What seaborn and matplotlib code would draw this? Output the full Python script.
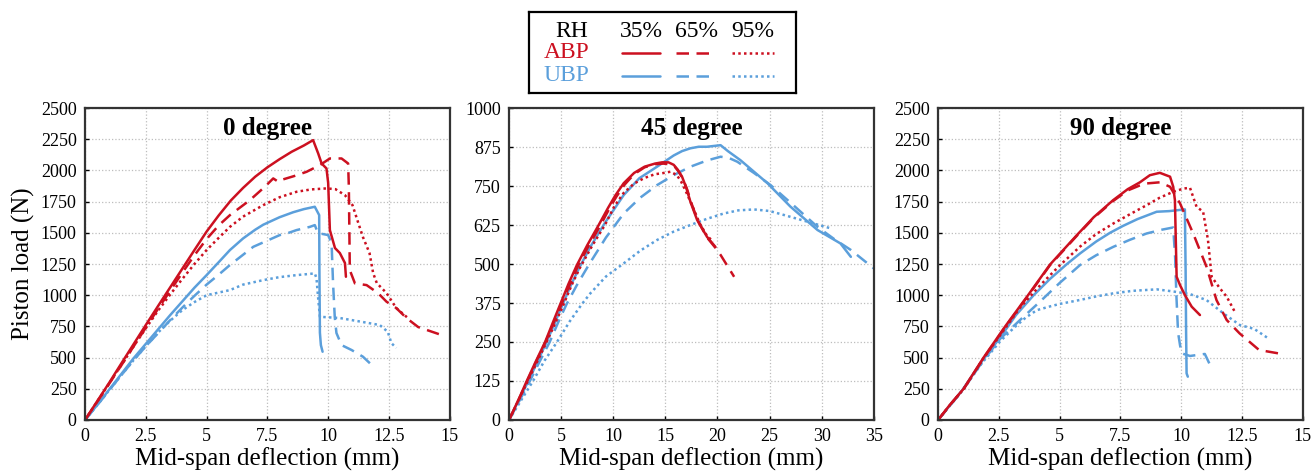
import pandas as pd
import matplotlib
matplotlib.use("Agg")
import matplotlib.pyplot as plt
import seaborn as sns

# ---- 0 degree ----
abp35_0_x = [0, 0.5, 1, 1.5, 2, 2.5, 3, 3.5, 4, 4.5, 5, 5.5, 6, 6.5, 7, 7.5, 8, 8.5, 9, 9.38, 9.59, 9.73, 9.93, 10.0, 10.07, 10.28, 10.48, 10.69, 10.73]
abp35_0_y = [0, 150, 300, 455, 608, 761, 912, 1062, 1212, 1362, 1510, 1640, 1760, 1860, 1950, 2025, 2090, 2150, 2200, 2243, 2136, 2056, 2016, 1900, 1522, 1378, 1338, 1258, 1148]
abp65_0_x = [0, 0.5, 1, 1.5, 2, 2.5, 3, 3.5, 4, 4.5, 5, 5.5, 5.96, 6.78, 7.4, 7.74, 7.95, 8.14, 8.6, 9.11, 9.66, 10.07, 10.55, 10.82, 10.85, 10.89, 11.1, 11.58, 12.05, 12.4, 12.8, 13.22, 13.7, 14.3, 14.66]
abp65_0_y = [0, 145, 292, 440, 590, 740, 890, 1035, 1180, 1320, 1450, 1560, 1642, 1762, 1870, 1936, 1909, 1928, 1955, 1989, 2043, 2096, 2096, 2056, 1869, 1201, 1095, 1081, 1017, 948, 897, 817, 745, 705, 681]
abp95_0_x = [0, 0.5, 1, 1.5, 2, 2.5, 3, 3.5, 4, 4.5, 5, 5.5, 5.96, 6.5, 7.33, 8.0, 8.7, 9.3, 9.93, 10.3, 10.69, 11.0, 11.2, 11.43, 11.7, 11.85, 12.0, 12.4, 12.8, 13.28]
abp95_0_y = [0, 148, 295, 442, 590, 735, 875, 1005, 1130, 1250, 1362, 1460, 1548, 1630, 1722, 1785, 1829, 1848, 1856, 1850, 1802, 1722, 1602, 1466, 1338, 1177, 1097, 1017, 897, 817]
ubp35_0_x = [0, 0.5, 1, 1.5, 2, 2.5, 3, 3.5, 4, 4.5, 5, 5.5, 5.96, 6.5, 7.0, 7.33, 8, 8.56, 9, 9.45, 9.63, 9.64, 9.66, 9.7, 9.77]
ubp35_0_y = [0, 120, 245, 370, 495, 610, 725, 840, 950, 1060, 1161, 1265, 1362, 1455, 1525, 1565, 1625, 1665, 1690, 1709, 1642, 1200, 700, 600, 547]
ubp65_0_x = [0, 0.5, 1, 1.5, 2, 2.5, 3, 3.5, 4, 4.5, 5, 5.5, 5.96, 6.92, 8.01, 8.3, 8.7, 9.25, 9.45, 9.58, 10.0, 10.14, 10.2, 10.27, 10.34, 10.55, 10.96, 11.43, 11.92]
ubp65_0_y = [0, 118, 240, 360, 480, 590, 695, 800, 900, 995, 1085, 1165, 1242, 1388, 1482, 1495, 1522, 1548, 1562, 1498, 1482, 1418, 1100, 827, 697, 600, 561, 507, 417]
ubp95_0_x = [0, 0.5, 1, 1.5, 2, 2.5, 3, 3.5, 4, 4.5, 5, 5.96, 6.5, 7.33, 8, 8.7, 9.2, 9.45, 9.52, 9.6, 9.66, 10.48, 11.37, 12.12, 12.45, 12.6, 12.8]
ubp95_0_y = [0, 118, 240, 360, 480, 590, 700, 795, 880, 945, 1000, 1041, 1085, 1121, 1145, 1161, 1170, 1175, 1135, 950, 827, 817, 787, 761, 707, 616, 577]

# ---- 45 degree ----
abp35_45_x = [0, 1, 1.7, 2.5, 3.46, 4.2, 4.9, 5.7, 6.5, 7.5, 8.6, 9.5, 10.2, 11.0, 12, 13, 14, 14.68, 15.3, 15.8, 16.2, 16.6, 17.0, 17.4, 18.05, 19.0, 19.8]
abp35_45_y = [0, 72, 125, 183, 250, 312, 370, 436, 496, 560, 625, 680, 720, 759, 792, 812, 822, 826, 826, 818, 802, 780, 745, 700, 641, 587, 555]
abp65_45_x = [0, 1, 1.7, 2.5, 3.5, 4.3, 5, 5.8, 6.6, 7.6, 8.7, 9.6, 10.3, 11.1, 12, 13, 14, 14.8, 15.4, 15.9, 16.3, 16.7, 17.1, 17.5, 18.1, 19.0, 19.8, 20.3, 21.6]
abp65_45_y = [0, 70, 122, 180, 250, 313, 368, 432, 493, 556, 620, 676, 716, 755, 788, 810, 820, 822, 820, 812, 795, 772, 738, 695, 640, 585, 552, 529, 459]
abp95_45_x = [0, 1, 1.8, 2.6, 3.6, 4.4, 5.1, 6.0, 6.8, 8.0, 9.2, 10.1, 11.0, 12, 13, 14, 14.68, 15.5, 16.1, 16.5, 16.9, 17.6, 18.3, 19.0, 19.6]
abp95_45_y = [0, 70, 125, 180, 250, 308, 360, 432, 488, 560, 625, 685, 728, 758, 776, 788, 791, 796, 785, 765, 738, 685, 630, 590, 572]
ubp35_45_x = [0, 1, 1.86, 2.7, 3.6, 4.4, 5.2, 6.0, 6.8, 7.8, 9.2, 11.0, 12.5, 14.2, 15.8, 16.6, 17.4, 18.2, 19.0, 20.3, 21.0, 22.2, 24.8, 27.0, 29.6, 31.8, 32.8]
ubp35_45_y = [0, 68, 125, 185, 250, 312, 375, 437, 492, 555, 632, 721, 775, 812, 848, 862, 871, 876, 876, 881, 862, 833, 759, 684, 609, 566, 523]
ubp65_45_x = [0, 1, 2, 2.9, 3.9, 4.7, 5.5, 6.5, 7.7, 9.3, 11.0, 12.6, 14.2, 15.8, 17.4, 19.0, 20.3, 21.1, 21.9, 23.5, 25.1, 27.3, 29.6, 31.2, 32.8, 35.0]
ubp65_45_y = [0, 62, 125, 185, 250, 312, 370, 432, 500, 585, 662, 713, 753, 785, 812, 832, 844, 840, 828, 792, 753, 688, 619, 580, 545, 486]
ubp95_45_x = [0, 1.1, 2.3, 3.4, 4.6, 5.8, 7.0, 7.8, 9.3, 11.0, 12.6, 14.2, 15.8, 17.4, 19.0, 20.6, 22.0, 23.5, 25.0, 26.4, 28.6, 30.9]
ubp95_45_y = [0, 60, 125, 190, 250, 315, 372, 406, 460, 502, 543, 577, 604, 625, 645, 662, 672, 675, 670, 657, 636, 614]

# ---- 90 degree ----
abp35_90_x = [0, 0.5, 1.05, 1.87, 2.76, 3.7, 4.6, 5.7, 6.4, 7.2, 7.8, 8.3, 8.71, 9.12, 9.54, 9.67, 9.74, 9.81, 9.95, 10.15, 10.43, 10.77]
abp35_90_y = [0, 125, 250, 500, 750, 1000, 1245, 1480, 1625, 1762, 1850, 1905, 1962, 1981, 1950, 1870, 1762, 1148, 1081, 1001, 908, 841]
abp65_90_x = [0, 0.5, 1.05, 1.87, 2.76, 3.7, 4.6, 5.7, 6.4, 7.2, 7.8, 8.3, 8.58, 9.12, 9.54, 9.95, 10.49, 11.04, 11.45, 11.87, 12.4, 13.2, 13.99]
abp65_90_y = [0, 122, 248, 495, 745, 995, 1240, 1475, 1620, 1755, 1840, 1880, 1896, 1905, 1869, 1736, 1495, 1228, 961, 801, 694, 561, 534]
abp95_90_x = [0, 0.5, 1.05, 1.87, 2.76, 3.37, 4.2, 5.01, 5.84, 6.5, 7.21, 7.9, 8.58, 9.1, 9.67, 10.1, 10.36, 10.63, 10.9, 11.1, 11.25, 11.59, 11.87, 12.2]
abp95_90_y = [0, 122, 248, 495, 735, 900, 1080, 1240, 1390, 1490, 1575, 1650, 1722, 1780, 1829, 1855, 1861, 1709, 1669, 1442, 1148, 1055, 988, 868]
ubp35_90_x = [0, 0.5, 1.0, 1.8, 2.55, 3.2, 3.93, 4.6, 5.3, 5.84, 6.5, 7.07, 7.6, 8.2, 8.99, 9.5, 10.15, 10.18, 10.2, 10.22, 10.27]
ubp35_90_y = [0, 120, 240, 470, 660, 840, 1000, 1130, 1250, 1335, 1430, 1500, 1555, 1610, 1669, 1674, 1688, 1200, 700, 374, 347]
ubp65_90_x = [0, 0.5, 1.0, 1.8, 2.55, 3.37, 4.2, 5.01, 5.84, 6.5, 7.21, 7.9, 8.58, 9.2, 9.67, 9.75, 9.8, 9.87, 9.95, 10.02, 10.36, 10.97, 11.25]
ubp65_90_y = [0, 118, 235, 460, 650, 801, 950, 1100, 1242, 1320, 1388, 1445, 1495, 1525, 1543, 1300, 1000, 700, 600, 534, 513, 529, 414]
ubp95_90_x = [0, 0.5, 1.0, 1.8, 2.55, 3.1, 3.6, 4.06, 4.6, 5.0, 5.84, 6.5, 7.21, 8.0, 8.99, 9.67, 10.36, 11.04, 11.73, 12.41, 13.0, 13.58]
ubp95_90_y = [0, 118, 235, 455, 630, 735, 820, 880, 910, 930, 962, 990, 1015, 1035, 1047, 1030, 1009, 961, 855, 761, 730, 654]

panel_titles = ["0 degree", "45 degree", "90 degree"]
x_ticks = [[0, 2.5, 5, 7.5, 10, 12.5, 15], list(range(0, 40, 5)), [0, 2.5, 5, 7.5, 10, 12.5, 15]]
y_ticks = [list(range(0, 2750, 250)), list(range(0, 1125, 125)), list(range(0, 2750, 250))]
rh_levels = ["35%", "65%", "95%"]
bp_levels = ["ABP", "UBP"]

series = {
    0: [("ABP", "35%", abp35_0_x, abp35_0_y), ("ABP", "65%", abp65_0_x, abp65_0_y), ("ABP", "95%", abp95_0_x, abp95_0_y),
        ("UBP", "35%", ubp35_0_x, ubp35_0_y), ("UBP", "65%", ubp65_0_x, ubp65_0_y), ("UBP", "95%", ubp95_0_x, ubp95_0_y)],
    1: [("ABP", "35%", abp35_45_x, abp35_45_y), ("ABP", "65%", abp65_45_x, abp65_45_y), ("ABP", "95%", abp95_45_x, abp95_45_y),
        ("UBP", "35%", ubp35_45_x, ubp35_45_y), ("UBP", "65%", ubp65_45_x, ubp65_45_y), ("UBP", "95%", ubp95_45_x, ubp95_45_y)],
    2: [("ABP", "35%", abp35_90_x, abp35_90_y), ("ABP", "65%", abp65_90_x, abp65_90_y), ("ABP", "95%", abp95_90_x, abp95_90_y),
        ("UBP", "35%", ubp35_90_x, ubp35_90_y), ("UBP", "65%", ubp65_90_x, ubp65_90_y), ("UBP", "95%", ubp95_90_x, ubp95_90_y)],
}

red = "#cc1020"
blue = "#5b9fdb"
palette = {"ABP": red, "UBP": blue}
dashes = {"35%": "", "65%": (5, 3), "95%": (1, 1.3)}

sns.set_style("ticks")
plt.rcParams["font.family"] = ["Liberation Serif", "DejaVu Serif"]
plt.rcParams["text.color"] = "black"
plt.rcParams["axes.labelcolor"] = "black"
plt.rcParams["xtick.color"] = "black"
plt.rcParams["ytick.color"] = "black"

fig = plt.figure(figsize=(13.12, 4.74), dpi=100)
lefts = [0.0648, 0.388, 0.715]

for i in range(3):
    ax = fig.add_axes([lefts[i], 0.114, 0.278, 0.658])
    rows = []
    for bp, rh, xs, ys in series[i]:
        for n, (xv, yv) in enumerate(zip(xs, ys)):
            rows.append({"x": xv, "load": yv, "bp": bp, "rh": rh, "n": n})
    df = pd.DataFrame(rows)
    sns.lineplot(data=df, x="x", y="load", hue="bp", style="rh",
                 hue_order=["UBP", "ABP"], style_order=rh_levels,
                 palette=palette, dashes=dashes, estimator=None, sort=False,
                 linewidth=1.8, legend=False, ax=ax)
    ax.set_xlim(x_ticks[i][0], x_ticks[i][-1])
    ax.set_ylim(y_ticks[i][0], y_ticks[i][-1])
    ax.set_xticks(x_ticks[i])
    ax.set_xticklabels([("%g" % t) for t in x_ticks[i]])
    ax.set_yticks(y_ticks[i])
    ax.grid(True, linestyle=":", color="#bdbdbd", linewidth=0.9)
    ax.tick_params(direction="in", length=3, width=1, labelsize=13, pad=6)
    for sp in ax.spines.values():
        sp.set_color("#333333")
        sp.set_linewidth(1.6)
    ax.set_xlabel("Mid-span deflection (mm)", fontsize=18, labelpad=2)
    if i == 0:
        ax.set_ylabel("Piston load (N)", fontsize=18, labelpad=4)
    else:
        ax.set_ylabel("")
    ax.text(0.5, 0.935, panel_titles[i], transform=ax.transAxes, ha="center", va="center",
            fontsize=18, fontweight="bold", color="black")

# legend box drawn as a small table at the top
lax = fig.add_axes([0.403, 0.804, 0.204, 0.171])
lax.set_xlim(0, 1)
lax.set_ylim(0, 1)
lax.set_xticks([])
lax.set_yticks([])
for sp in lax.spines.values():
    sp.set_color("black")
    sp.set_linewidth(1.6)
col_x = [0.42, 0.625, 0.836]
seg = [(0.347, 0.489), (0.552, 0.694), (0.761, 0.918)]
row_y = {"ABP": 0.494, "UBP": 0.21}
lax.text(0.16, 0.753, "RH", ha="center", va="center", fontsize=17)
for cx, rh in zip(col_x, rh_levels):
    lax.text(cx, 0.753, rh, ha="center", va="center", fontsize=17)
for bp in bp_levels:
    lax.text(0.142, row_y[bp], bp, ha="center", va="center", fontsize=17, color=palette[bp])
    for (a, b), rh in zip(seg, rh_levels):
        ls = "-" if dashes[rh] == "" else (0, dashes[rh])
        lax.plot([a, b], [row_y[bp], row_y[bp]], color=palette[bp], linewidth=1.8, linestyle=ls)

fig.savefig("out.png", dpi=100)
